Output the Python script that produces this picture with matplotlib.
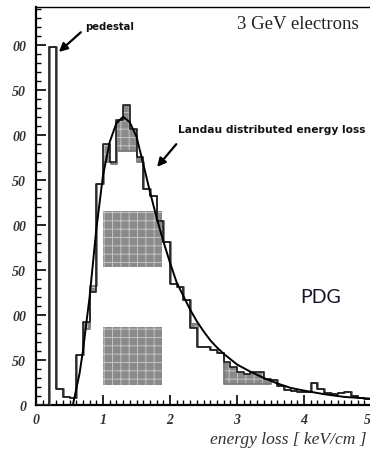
import numpy as np
import matplotlib
matplotlib.use("Agg")
import matplotlib.pyplot as plt
from matplotlib.patches import Rectangle
from matplotlib.ticker import MultipleLocator, FixedLocator

plt.rcParams['hatch.linewidth'] = 0.7

# ---- data ----
bin_edges = np.round(np.arange(0.0, 5.05, 0.1), 1)

hist_data = [0, 0, 398, 18, 9, 8, 55, 92, 125, 245,
             290, 270, 316, 333, 307, 275, 240, 232, 204, 181,
             134, 131, 117, 86, 64, 64, 61, 58, 48, 42,
             37, 34, 37, 37, 29, 28, 21, 17, 16, 14,
             14, 24, 18, 13, 12, 13, 14, 10, 8, 7]

hist_sim = [0, 0, 398, 18, 9, 8, 55, 84, 132, 245,
            270, 268, 282, 282, 282, 270, 240, 232, 204, 181,
            134, 131, 117, 90, 64, 64, 61, 58, 23, 23,
            23, 23, 23, 23, 23, 28, 21, 17, 16, 14,
            14, 24, 18, 13, 12, 13, 14, 10, 8, 7]

landau_x = [0.55, 0.65, 0.7, 0.8, 0.9, 1.0, 1.1, 1.2, 1.3, 1.4, 1.5, 1.6, 1.7,
            1.8, 1.9, 2.0, 2.1, 2.2, 2.3, 2.4, 2.5, 2.6, 2.7, 2.8, 3.0, 3.2,
            3.4, 3.6, 3.8, 4.0, 4.3, 4.6, 5.0]
landau_y = [0, 35, 60, 120, 195, 255, 292, 313, 320, 314, 298, 268, 237,
            208, 182, 158, 136, 121, 106, 93, 82, 72, 64, 57, 45, 37,
            30, 24, 19, 16, 12, 9, 7]

ytick_vals = [0, 50, 100, 150, 200, 250, 300, 350, 400]
ytick_text = ['0', '50', '00', '50', '00', '50', '00', '50', '00']
xtick_vals = [0, 1, 2, 3, 4, 5]
xtick_text = ['0', '1', '2', '3', '4', '5']

# ---- figure ----
W, H, DPI = 370, 452, 100
fig = plt.figure(figsize=(W / DPI, H / DPI), dpi=DPI)
ax = fig.add_axes([36 / W, 1 - 406 / H, (371 - 36) / W, (406 - 8) / H])
ax.set_xlim(0, 5)
ax.set_ylim(0, 442)

# overlay grey blocks (scan artefacts)
for (x0, x1, y0, y1) in [(1.0, 1.88, 153, 215), (1.0, 1.88, 22, 87)]:
    ax.add_patch(Rectangle((x0, y0), x1 - x0, y1 - y0, facecolor='#8a8a8a',
                           edgecolor='#c4c4c4', hatch='++', lw=0, zorder=1))

a = np.array(hist_data + [hist_data[-1]])
b = np.array(hist_sim + [hist_sim[-1]])
ax.fill_between(bin_edges, b, a, step='post', facecolor='#8a8a8a',
                edgecolor='#c4c4c4', hatch='++', lw=0, zorder=2)
ax.step(bin_edges + 0.012, b, where='post', color='#7a7a7a', lw=1.3, zorder=3)
ax.step(bin_edges, a, where='post', color='#1a1a1a', lw=1.2, zorder=4)
ax.plot(landau_x, landau_y, color='black', lw=1.4, zorder=5)

# texts
ax.text(4.81, 424, '3 GeV electrons', family='Liberation Serif', fontsize=13.5,
        color='#222222', ha='right', va='center')
ax.text(0.73, 421, 'pedestal', family='DejaVu Sans', fontsize=7.2,
        weight='bold', color='#111111', ha='left', va='center')
ax.annotate('', xy=(0.31, 390), xytext=(0.70, 416),
            arrowprops=dict(arrowstyle='-|>,head_length=0.5,head_width=0.25',
                            color='black', lw=1.6))
ax.text(2.12, 306, 'Landau distributed energy loss', family='DejaVu Sans',
        fontsize=7.7, weight='bold', color='#111111', ha='left', va='center')
ax.annotate('', xy=(1.78, 262), xytext=(2.12, 292),
            arrowprops=dict(arrowstyle='-|>,head_length=0.5,head_width=0.25',
                            color='black', lw=1.6))
ax.text(3.94, 121, 'PDG', family='Lato', fontsize=14, color='#141428',
        ha='left', va='center')

# axes styling
for s in ['left', 'bottom']:
    ax.spines[s].set_linewidth(1.6)
ax.spines['top'].set_linewidth(1.0)
ax.spines['right'].set_visible(False)

ax.xaxis.set_major_locator(FixedLocator(xtick_vals))
ax.set_xticklabels(xtick_text)
ax.xaxis.set_minor_locator(MultipleLocator(0.1))
ax.yaxis.set_major_locator(FixedLocator(ytick_vals))
ax.set_yticklabels(ytick_text)
ax.yaxis.set_minor_locator(MultipleLocator(10))
ax.tick_params(which='both', direction='in', top=False, right=False)
ax.tick_params(which='major', length=7, width=1.2)
ax.tick_params(which='minor', length=3.5, width=1.0)
ax.tick_params(axis='x', pad=6)
ax.tick_params(axis='y', pad=7)
for lab in ax.get_xticklabels() + ax.get_yticklabels():
    lab.set_family('Liberation Serif')
    lab.set_style('italic')
    lab.set_weight('bold')
    lab.set_fontsize(10)
    lab.set_color('#333333')
ax.get_xticklabels()[-1].set_horizontalalignment('right')

fig.text(366 / W, 1 - 440 / H, 'energy loss [ keV/cm ]', family='Liberation Serif',
         style='italic', fontsize=12.6, color='#333333', ha='right', va='center')

fig.savefig('out.png', dpi=DPI)
